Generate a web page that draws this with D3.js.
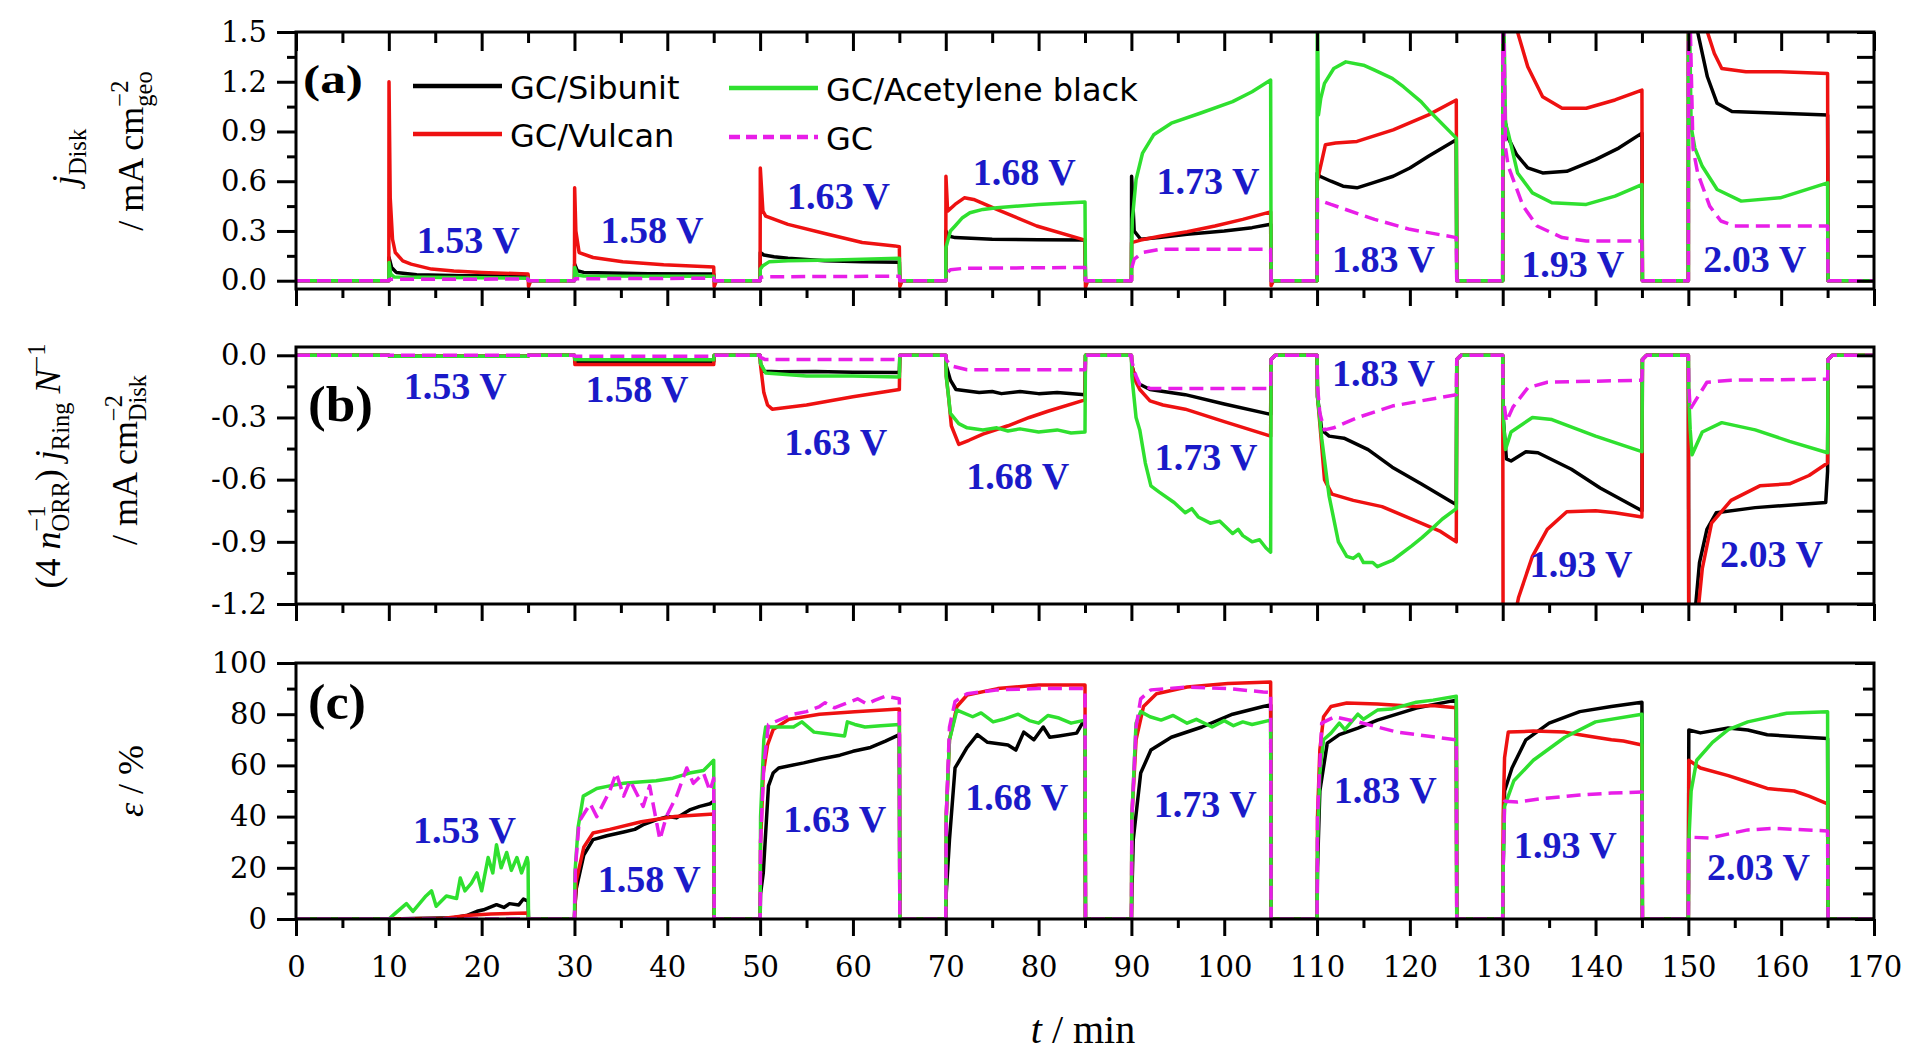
<!DOCTYPE html>
<html>
<head>
<meta charset="utf-8">
<script src="https://cdn.jsdelivr.net/npm/d3@7"></script>
<style>
  html, body { margin: 0; padding: 0; background: #fff; }
  svg text { white-space: pre; }
</style>
</head>
<body>
<svg id="chart" width="1910" height="1056"></svg>
<script>
// ---- data (t in min, value) ----
var seriesNames = ['GC/Sibunit', 'GC/Vulcan', 'GC/Acetylene black', 'GC'];
var voltLabels = ['1.53 V', '1.58 V', '1.63 V', '1.68 V', '1.73 V', '1.83 V', '1.93 V', '2.03 V'];
var xTicks = d3.range(0, 171, 10);

// (a) disk current density / mA cm-2
var diskBlack = [[0,0],[10,0],[10.02,0.14],[10.3,0.08],[10.8,0.05],[13,0.036],[18,0.03],[25,0.028],[25.05,0],
  [30,0],[30.02,0.1],[30.3,0.06],[31,0.05],[38,0.042],[45,0.04],[45.05,0],
  [50,0],[50.02,0.17],[50.4,0.155],[51.5,0.145],[53,0.135],[57,0.12],[61,0.115],[65,0.112],[65.05,0],
  [70,0],[70.02,0.3],[70.3,0.27],[71,0.26],[75,0.25],[80,0.247],[85,0.245],[85.05,0],
  [90,0],[90.02,0.63],[90.3,0.3],[91,0.25],[93,0.26],[96,0.28],[100,0.3],[103,0.32],[105,0.34],[105.05,0],
  [110,0],[110.02,0.65],[110.3,0.63],[111.5,0.6],[112.8,0.57],[114.3,0.56],[116,0.59],[118.2,0.63],[120,0.68],[122,0.75],[125,0.85],[125.05,0],
  [130,0],[130.02,1.2],[130.3,0.95],[130.6,0.86],[131.5,0.76],[132.7,0.68],[134.3,0.65],[136.9,0.66],[140,0.73],[142.5,0.8],[145,0.89],[145.05,0],
  [150,0],[150.02,2.5],[151,1.5],[152.05,1.23],[153.1,1.07],[154.7,1.02],[159.9,1.01],[165,1.0],[165.05,0],[170,0]];
var diskRed = [[0,0],[10,0],[10.02,1.2],[10.15,0.5],[10.4,0.25],[10.7,0.17],[11.5,0.12],[12.4,0.1],[14.6,0.07],[17,0.058],[20,0.05],[25,0.04],[25.05,-0.035],[25.3,0],
  [30,0],[30.02,0.56],[30.15,0.3],[30.5,0.17],[32,0.14],[35.2,0.115],[39.6,0.096],[45,0.083],[45.05,-0.035],[45.3,0],
  [50,0],[50.02,0.68],[50.3,0.42],[50.6,0.39],[53,0.34],[57.3,0.28],[61,0.23],[64.5,0.21],[65,0.205],[65.05,-0.035],[65.3,0],
  [70,0],[70.02,0.63],[70.2,0.42],[71,0.46],[72,0.5],[73,0.49],[75.5,0.43],[79.8,0.33],[85,0.245],[85.05,-0.04],[85.3,0],
  [90,0],[90.02,0.23],[91,0.245],[93.2,0.27],[96,0.295],[99,0.33],[102,0.37],[105,0.415],[105.05,-0.03],[105.3,0],
  [110,0],[110.02,0.6],[110.3,0.67],[110.9,0.82],[112,0.83],[114.3,0.84],[118.2,0.91],[122,1.0],[125,1.09],[125.05,0],
  [130,0],[130.02,4],[130.5,2.4],[131.3,1.6],[131.6,1.5],[132.7,1.29],[134.3,1.11],[136.4,1.04],[139,1.04],[142.1,1.09],[145,1.15],[145.05,0],
  [150,0],[150.02,4],[151,2.2],[152.05,1.5],[152.8,1.37],[153.6,1.28],[156.2,1.26],[159.9,1.26],[165,1.25],[165.05,0],[170,0]];
var diskGreen = [[0,0],[10,0],[10.02,0.11],[10.2,0.04],[10.6,0.022],[25,0.015],[25.05,0],
  [30,0],[30.02,0.08],[30.3,0.035],[31,0.028],[45,0.027],[45.05,0],
  [50,0],[50.02,0.07],[50.3,0.09],[51,0.115],[53,0.12],[58,0.125],[65,0.135],[65.05,0],
  [70,0],[70.02,0.2],[70.5,0.3],[71,0.33],[71.8,0.38],[72.6,0.41],[74,0.43],[75.5,0.44],[80,0.46],[85,0.475],[85.05,0],
  [90,0],[90.02,0.2],[90.1,0.37],[90.5,0.61],[91.2,0.77],[92.4,0.88],[94.3,0.95],[97.4,1.01],[100.9,1.08],[103,1.14],[105,1.21],[105.05,0],
  [110,0],[110.02,1.8],[110.15,1.0],[110.4,1.1],[110.8,1.19],[111.8,1.28],[113.1,1.32],[115,1.3],[116.2,1.27],[118.1,1.22],[119.3,1.17],[121.2,1.08],[122,1.03],[125,0.86],[125.05,0],
  [130,0],[130.02,2],[130.3,0.95],[130.6,0.89],[131.6,0.65],[133.2,0.53],[135.3,0.47],[139,0.46],[142.1,0.51],[145,0.58],[145.05,0],
  [150,0],[150.02,2],[150.3,0.93],[150.7,0.8],[151.5,0.69],[153.1,0.55],[155.7,0.48],[159.9,0.5],[165,0.59],[165.05,0],[170,0]];
var diskMagenta = [[0,0],[10,0],[10.05,0.008],[25,0.01],[25.05,0],
  [30,0],[30.05,0.012],[45,0.015],[45.05,0],
  [50,0],[50.05,0.02],[50.5,0.024],[65,0.027],[65.05,0],
  [70,0],[70.05,0.04],[70.5,0.066],[72,0.075],[85,0.08],[85.05,0],
  [90,0],[90.05,0.08],[90.3,0.13],[91.2,0.17],[93.2,0.19],[105,0.19],[105.05,0],
  [110,0],[110.05,0.49],[111.5,0.46],[116.2,0.37],[120,0.31],[125,0.26],[125.05,0],
  [130,0],[130.02,2],[130.3,0.8],[130.6,0.69],[132.2,0.45],[133.7,0.33],[136.4,0.26],[139,0.24],[145,0.24],[145.05,0],
  [150,0],[150.02,2],[150.5,0.8],[151,0.65],[152.3,0.45],[153.5,0.36],[155,0.33],[165,0.33],[165.05,0],[170,0]];

// (b) (4/n) j_ring / N  / mA cm-2
var ringBlack = [[0,0],[10,0],[10.05,-0.005],[25,-0.005],[25.05,0],
  [30,0],[30.05,-0.03],[45,-0.03],[45.05,0],
  [50,0],[50.05,-0.04],[50.4,-0.077],[52,-0.08],[56,-0.078],[60,-0.082],[65,-0.083],[65.05,0],
  [70,0],[70.05,-0.05],[70.5,-0.12],[71.1,-0.165],[73.6,-0.18],[75,-0.175],[76,-0.185],[78,-0.175],[80,-0.185],[82,-0.18],[85,-0.19],[85.05,0],
  [90,0],[90.05,-0.05],[90.5,-0.12],[90.9,-0.14],[92,-0.165],[95.8,-0.19],[100,-0.235],[105,-0.285],[105.05,-0.02],[105.5,0],
  [110,0],[110.05,-0.2],[110.5,-0.36],[111.3,-0.39],[112.9,-0.4],[115.5,-0.455],[118.1,-0.54],[121.2,-0.62],[124.6,-0.71],[125,-0.72],[125.05,-0.02],[125.5,0],
  [130,0],[130.05,-0.3],[130.4,-0.5],[130.9,-0.51],[132.5,-0.465],[133.8,-0.47],[137.4,-0.55],[140.5,-0.64],[145,-0.75],[145.05,-0.02],[145.5,0],
  [150,0],[150.05,-1.5],[150.7,-1.25],[151.2,-1.0],[152,-0.84],[153,-0.76],[157.2,-0.735],[164.8,-0.71],[165,-0.56],[165.05,-0.02],[165.5,0],[170,0]];
var ringRed = [[0,0],[10,0],[10.05,-0.005],[25,-0.005],[25.05,0],
  [30,0],[30.05,-0.045],[45,-0.045],[45.05,0],
  [50,0],[50.05,-0.05],[50.4,-0.18],[50.8,-0.24],[51.3,-0.26],[55,-0.24],[60,-0.2],[65,-0.165],[65.05,0],
  [70,0],[70.05,-0.1],[70.3,-0.2],[70.6,-0.34],[71.4,-0.43],[72.5,-0.41],[74,-0.38],[76.7,-0.34],[79,-0.3],[81,-0.27],[85,-0.215],[85.05,0],
  [90,0],[90.05,-0.05],[90.5,-0.13],[90.9,-0.165],[92,-0.22],[93.4,-0.24],[95.8,-0.26],[100,-0.32],[105,-0.39],[105.05,-0.02],[105.5,0],
  [110,0],[110.05,-0.2],[110.3,-0.33],[110.8,-0.6],[111.6,-0.67],[113.9,-0.7],[117,-0.73],[120.2,-0.79],[123.3,-0.85],[125,-0.9],[125.05,-0.02],[125.5,0],
  [130,0],[130.05,-1.6],[131.1,-1.3],[131.7,-1.17],[133.2,-0.97],[134.8,-0.84],[136.9,-0.755],[140,-0.75],[142.1,-0.76],[145,-0.78],[145.05,-0.02],[145.5,0],
  [150,0],[150.05,-1.6],[150.9,-1.3],[151.5,-1.03],[152.5,-0.81],[154.6,-0.7],[157.7,-0.63],[160.9,-0.62],[163,-0.58],[165,-0.52],[165.05,-0.02],[165.5,0],[170,0]];
var ringGreen = [[0,0],[10,0],[10.05,-0.005],[25,-0.005],[25.05,0],
  [30,0],[30.05,-0.02],[45,-0.022],[45.05,0],
  [50,0],[50.05,-0.04],[50.6,-0.085],[55,-0.1],[60,-0.1],[65,-0.105],[65.05,0],
  [70,0],[70.05,-0.1],[70.5,-0.28],[71.4,-0.33],[72.3,-0.35],[74,-0.36],[75.5,-0.35],[76.7,-0.365],[78,-0.355],[80,-0.37],[82,-0.36],[83.5,-0.375],[85,-0.37],[85.05,0],
  [90,0],[90.05,-0.1],[90.5,-0.3],[90.9,-0.36],[91.5,-0.52],[92.1,-0.63],[93,-0.66],[94.6,-0.71],[95.8,-0.76],[96.5,-0.74],[97.2,-0.78],[98.5,-0.81],[99.5,-0.8],[100.9,-0.86],[101.5,-0.84],[102,-0.87],[103,-0.9],[103.8,-0.89],[104.5,-0.93],[105,-0.95],[105.05,-0.02],[105.5,0],
  [110,0],[110.05,-0.2],[110.5,-0.4],[111.3,-0.68],[112.3,-0.9],[113.2,-0.97],[113.9,-0.98],[114.5,-0.96],[115,-1.0],[116,-1.0],[116.5,-1.02],[117,-1.01],[118.1,-0.99],[119,-0.96],[120.2,-0.92],[121.3,-0.88],[122.3,-0.84],[123.5,-0.79],[125,-0.74],[125.05,-0.02],[125.5,0],
  [130,0],[130.05,-0.3],[130.3,-0.455],[130.9,-0.37],[133.2,-0.3],[135.3,-0.31],[140,-0.39],[145,-0.465],[145.05,-0.02],[145.5,0],
  [150,0],[150.05,-0.2],[150.2,-0.36],[150.4,-0.48],[151.5,-0.37],[153.6,-0.325],[157.2,-0.36],[160.9,-0.415],[165,-0.47],[165.05,-0.02],[165.5,0],[170,0]];
var ringMagenta = [[0,0],[30,0],[30.05,-0.005],[45,-0.005],[45.05,0],
  [50,0],[50.05,-0.01],[50.5,-0.02],[65,-0.02],[65.05,0],
  [70,0],[70.05,-0.02],[70.5,-0.05],[72.3,-0.07],[85,-0.07],[85.05,0],
  [90,0],[90.05,-0.03],[90.5,-0.1],[90.9,-0.14],[92,-0.16],[105,-0.16],[105.05,-0.02],[105.5,0],
  [110,0],[110.05,-0.15],[110.3,-0.28],[110.8,-0.36],[111.8,-0.35],[114.4,-0.3],[118.1,-0.245],[121.2,-0.22],[125,-0.19],[125.05,-0.02],[125.5,0],
  [130,0],[130.05,-0.2],[130.4,-0.32],[131.1,-0.25],[132.7,-0.157],[134.8,-0.13],[145,-0.12],[145.05,-0.02],[145.5,0],
  [150,0],[150.05,-0.15],[150.2,-0.26],[152,-0.13],[154.6,-0.12],[165,-0.115],[165.05,-0.02],[165.5,0],[170,0]];

// (c) efficiency / %
var effBlack = [[0,0],[10,0],[17,0.5],[18.5,1.5],[19.5,3],[20.2,3.6],[21.6,5.6],[22.4,4.5],[23,6],[24,5.5],[24.5,7.8],[25,7],[25.05,0],
  [30,0],[30.05,5],[30.2,12],[31,25],[32,31],[33.5,32.5],[35.3,34],[36.5,35],[37.5,37],[38.8,38.7],[40,40],[41,39.5],[42.4,42.6],[43.5,44],[44.6,45],[45,46],[45.05,0],
  [50,0],[50.05,10],[50.34,18],[50.9,52],[51.4,57],[52,59],[54.7,61],[56.5,62.5],[58.6,64],[60,65.5],[61.9,67],[63.5,69.5],[65,72],[65.05,0],
  [70,0],[70.05,10],[70.4,31],[71,59],[72.3,67],[73.4,72],[74.5,69],[76.7,68],[77.55,66],[78.4,73],[79.5,70],[80.5,75],[81.2,71],[82.2,71.5],[84.1,72.6],[84.8,77],[85,77],[85.05,0],
  [90,0],[90.05,10],[90.2,31],[91,57],[92.1,66],[94.3,71],[97.6,75],[100.9,80],[104.2,83],[105,83.6],[105.05,0],
  [110,0],[110.05,20],[110.3,50],[111.1,68.7],[112.4,72],[114.4,74.6],[116.5,77.7],[120.7,82.4],[125,85.5],[125.05,0],
  [130,0],[130.05,20],[130.2,50],[131,59],[132.5,70],[135,76.5],[138.3,81],[141.7,83],[145,84.7],[145.05,0],
  [150,0],[150.05,73.8],[151.3,72.7],[154.3,74.6],[156.4,73.8],[158.5,72],[162.7,71],[165,70.5],[165.05,0],[170,0]];
var effRed = [[0,0],[10,0],[16,0.3],[18.7,1.5],[21,2],[25,2.3],[25.05,0],
  [30,0],[30.05,5],[30.2,15],[31,28],[32,33.6],[33.8,35],[37.2,38],[40.8,40],[45,41],[45.05,0],
  [50,0],[50.05,30],[50.34,57],[50.8,68],[51.4,74],[53.1,78],[56.4,80],[60.2,81],[65,82],[65.05,0],
  [70,0],[70.05,40],[70.4,70],[71.2,83],[72.3,87.5],[75.6,90],[80,91.4],[85,91.4],[85.05,0],
  [90,0],[90.05,40],[90.5,70],[91.3,83],[92.7,88],[96,90.6],[100.4,92],[105,92.6],[105.05,0],
  [110,0],[110.05,40],[110.3,66],[110.7,79],[111.5,83],[113.2,84.4],[116.5,84],[120.7,83],[122.4,83.4],[125,82.5],[125.05,0],
  [130,0],[130.05,40],[130.2,63],[130.6,73],[133.3,73.4],[136.7,73],[138.3,72],[141.7,70],[143,69.5],[145,68],[145.05,0],
  [150,0],[150.05,62],[151.3,59],[154.3,56],[156,54],[158.5,51],[161.4,50],[163,48],[165,45],[165.05,0],[170,0]];
var effGreen = [[0,0],[10,0],[10.5,1.6],[11.9,6],[12.6,3],[14,9],[14.6,11],[15.1,5],[16.2,9],[17.3,8],[17.7,16],[18.2,11],[18.9,14],[19.5,18],[20,11],[20.7,24],[21.2,18],[21.6,29],[22.1,20],[22.7,26],[23.2,19],[23.8,24],[24.3,18],[24.9,24],[25,22],[25.05,0],
  [30,0],[30.05,18],[30.4,36],[30.95,48],[32.4,51],[33.8,52],[35.3,53],[37,53.5],[38.8,54],[40.6,55],[42.4,57],[43.9,58],[45,62],[45.05,0],
  [50,0],[50.05,40],[50.4,70],[50.6,75],[52,75],[53.6,75],[54.5,77],[55.8,73],[57,72.5],[59.1,71.5],[59.4,77],[60.2,76],[61.3,75],[63,75.5],[65,76],[65.05,0],
  [70,0],[70.05,40],[70.4,70],[71.2,81.6],[72.9,79],[73.8,80.5],[75.1,77],[76.2,78],[77.8,80],[79,77.5],[80,76.5],[81,79.5],[82.2,78.5],[83.5,76.5],[85,77.7],[85.05,0],
  [90,0],[90.05,40],[90.5,76.5],[91,81],[92,79],[93.2,77.7],[94.5,79.5],[96,76.5],[97,78],[98.7,75],[100,77.5],[101,75.5],[102,77],[103,76],[105,77.7],[105.05,0],
  [110,0],[110.05,30],[110.3,57],[110.7,70],[111.5,72.6],[112.4,76.5],[113,74],[114.4,80],[115,78],[116.5,81.6],[118,82],[120.7,84.7],[122.5,85.5],[125,87],[125.05,0],
  [130,0],[130.05,20],[130.2,44],[131.2,54],[133.3,62],[136.7,71],[140,77],[145,80],[145.05,0],
  [150,0],[150.05,30],[150.3,50],[150.9,62],[152.6,69],[154.3,74],[156.4,77],[160.6,80.4],[165,81],[165.05,0],[170,0]];
var effMagenta = [[0,0],[30,0],[30.1,20],[30.5,38],[31,41],[31.7,45],[32.4,40],[33.8,50],[34.5,57],[35.3,48],[36,54],[37.4,44],[38.1,52],[39.2,31],[39.9,40],[41,48],[42.1,59],[42.8,53],[43.9,57],[44.6,50],[45,55],[45.05,0],
  [50,0],[50.05,30],[50.4,60],[50.9,76],[53.6,80],[55,81],[56.4,83],[57,84.5],[58,82.5],[59.1,84],[60.5,86],[61.5,84],[62.4,85.5],[63.5,87],[65,86],[65.05,0],
  [70,0],[70.05,40],[70.4,75],[71,85],[72.3,88],[75.6,89.5],[80,90],[85,90],[85.05,0],
  [90,0],[90.05,40],[90.5,75],[91,86],[92.1,89.5],[96,90.6],[100.4,90],[104.2,88.7],[105,88.5],[105.05,0],
  [110,0],[110.05,40],[110.5,76.5],[111.9,79],[114.4,77],[118.6,73],[125,70],[125.05,0],
  [130,0],[130.05,20],[130.2,46],[131.6,45.7],[134.2,47],[138.3,48.4],[141.7,49.2],[145,49.6],[145.05,0],
  [150,0],[150.05,32],[152.2,31.6],[156.4,34.8],[159.3,35.4],[165,34.4],[165.05,0],[170,0]];

// where the potential labels sit (t at left edge, value at baseline)
var labelPosA = [[13.0,0.17],[32.8,0.23],[52.9,0.43],[72.9,0.58],[92.7,0.52],[111.6,0.054],[132.0,0.02],[151.6,0.054]];
var labelPosB = [[11.6,-0.213],[31.2,-0.223],[52.6,-0.479],[72.2,-0.643],[92.5,-0.552],[111.6,-0.15],[132.9,-1.069],[153.4,-1.021]];
var labelPosC = [[12.6,29.7],[32.5,10.5],[52.5,34],[72.1,42.6],[92.4,39.8],[111.8,45.3],[131.2,23.8],[152.0,15.2]];

// ---- styles ----
var colors = ['#000000', '#ee1111', '#2fe02f', '#e81ee8'];
var dashes = [null, null, null, '14,7'];
var serif = 'Liberation Serif';
var tickFont = 'DejaVu Serif';
var blue = '#1a1ac8';

var svg = d3.select('#chart');
var x = d3.scaleLinear().domain([0, 170]).range([296, 1874]);
var X0 = 296, X1 = 1874;

var panels = [
  { id: 'a', domain: [-0.05, 1.5], range: [289, 32],
    major: d3.range(0, 6).map(function(i){ return i * 0.3; }),
    minor: d3.range(0, 5).map(function(i){ return 0.15 + i * 0.3; }),
    fmt: function(v){ return v.toFixed(1); },
    series: [diskBlack, diskRed, diskGreen, diskMagenta], labels: labelPosA,
    rMaj: 17, rMin: 17, top: true, tag: '(a)', tagY: 93, tagSize: 40, tagW: 60 },
  { id: 'b', domain: [-1.2, 0.04], range: [604, 347],
    major: d3.range(0, 5).map(function(i){ return -i * 0.3; }),
    minor: d3.range(0, 4).map(function(i){ return -0.15 - i * 0.3; }),
    fmt: function(v){ return v.toFixed(1); },
    series: [ringBlack, ringRed, ringGreen, ringMagenta], labels: labelPosB,
    rMaj: 17, rMin: 17, top: false, tag: '(b)', tagY: 421, tagSize: 50, tagW: 65 },
  { id: 'c', domain: [0, 100], range: [919, 663],
    major: d3.range(0, 101, 20), minor: d3.range(10, 100, 20),
    fmt: function(v){ return String(v); },
    series: [effBlack, effRed, effGreen, effMagenta], labels: labelPosC,
    rMaj: 19, rMin: 11, top: false, tag: '(c)', tagY: 719, tagSize: 50, tagW: 58 }
];

function styleAxis(sel){
  sel.select('.domain').remove();
  sel.selectAll('line').attr('stroke', '#000').attr('stroke-width', 3);
  sel.selectAll('text').attr('font-family', tickFont).attr('font-size', 29).attr('fill', '#000');
  return sel;
}

panels.forEach(function(p, pi){
  var y = d3.scaleLinear().domain(p.domain).range(p.range);
  var g = svg.append('g').attr('class', 'panel-' + p.id);
  var top = p.range[1], bot = p.range[0];

  // clip
  svg.append('clipPath').attr('id', 'clip-' + p.id)
    .append('rect').attr('x', X0).attr('y', top).attr('width', X1 - X0).attr('height', bot - top);

  // curves
  var line = d3.line().x(function(d){ return x(d[0]); }).y(function(d){ return y(d[1]); });
  var lines = g.append('g').attr('clip-path', 'url(#clip-' + p.id + ')');
  p.series.forEach(function(s, si){
    lines.append('path')
      .datum(s)
      .attr('d', line)
      .attr('fill', 'none')
      .attr('stroke', colors[si])
      .attr('stroke-width', 3.5)
      .attr('stroke-linejoin', 'round')
      .attr('stroke-dasharray', dashes[si]);
  });

  // left axis (outward)
  styleAxis(g.append('g').attr('transform', 'translate(' + X0 + ',0)')
    .call(d3.axisLeft(y).tickValues(p.major).tickSize(19).tickPadding(10).tickFormat(p.fmt)));
  styleAxis(g.append('g').attr('transform', 'translate(' + X0 + ',0)')
    .call(d3.axisLeft(y).tickValues(p.minor).tickSize(9).tickFormat('')));
  // right axis (inward)
  styleAxis(g.append('g').attr('transform', 'translate(' + X1 + ',0)')
    .call(d3.axisLeft(y).tickValues(p.major).tickSize(p.rMaj).tickFormat('')));
  styleAxis(g.append('g').attr('transform', 'translate(' + X1 + ',0)')
    .call(d3.axisLeft(y).tickValues(p.minor).tickSize(p.rMin).tickFormat('')));
  // bottom axis (outward)
  var bottomFmt = p.id === 'c' ? d3.format('d') : '';
  styleAxis(g.append('g').attr('transform', 'translate(0,' + bot + ')')
    .call(d3.axisBottom(x).tickValues(xTicks).tickSize(17).tickPadding(20).tickFormat(bottomFmt)));
  styleAxis(g.append('g').attr('transform', 'translate(0,' + bot + ')')
    .call(d3.axisBottom(x).tickValues(d3.range(5, 170, 10)).tickSize(9).tickFormat('')));
  if (p.top) {
    styleAxis(g.append('g').attr('transform', 'translate(0,' + top + ')')
      .call(d3.axisBottom(x).tickValues(xTicks).tickSize(19).tickFormat('')));
    styleAxis(g.append('g').attr('transform', 'translate(0,' + top + ')')
      .call(d3.axisBottom(x).tickValues(d3.range(5, 170, 10)).tickSize(11).tickFormat('')));
  }

  // frame
  g.append('rect').attr('x', X0).attr('y', top).attr('width', X1 - X0).attr('height', bot - top)
    .attr('fill', 'none').attr('stroke', '#000').attr('stroke-width', 3);

  // potential labels
  g.selectAll('text.volt').data(p.labels).enter().append('text')
    .attr('class', 'volt')
    .attr('x', function(d){ return x(d[0]); })
    .attr('y', function(d){ return y(d[1]); })
    .attr('font-family', serif).attr('font-weight', 'bold').attr('font-size', 37)
    .attr('fill', blue)
    .attr('textLength', 103).attr('lengthAdjust', 'spacingAndGlyphs')
    .text(function(d, i){ return voltLabels[i]; });

  // panel tag
  g.append('text').attr('x', pi === 0 ? 303 : 308).attr('y', p.tagY)
    .attr('font-family', serif).attr('font-weight', 'bold').attr('font-size', p.tagSize)
    .attr('textLength', p.tagW).attr('lengthAdjust', 'spacingAndGlyphs')
    .text(p.tag);
});

// ---- legend (panel a) ----
var legendItems = [
  { i: 0, x: 413, y: 86 }, { i: 1, x: 413, y: 134 },
  { i: 2, x: 729, y: 88 }, { i: 3, x: 729, y: 137 }
];
var lg = svg.append('g').attr('class', 'legend');
legendItems.forEach(function(it){
  lg.append('line').attr('x1', it.x).attr('x2', it.x + 89).attr('y1', it.y).attr('y2', it.y)
    .attr('stroke', colors[it.i]).attr('stroke-width', 4.5)
    .attr('stroke-dasharray', it.i === 3 ? '11,6' : null);
  lg.append('text').attr('x', it.x + 97).attr('y', it.y + 13)
    .attr('font-family', 'DejaVu Sans').attr('font-size', 32).attr('fill', '#000')
    .text(seriesNames[it.i]);
});

// ---- axis titles with sub/superscripts ----
function richText(parent, parts, fs){
  var g = parent.append('g');
  var pos = 0, prevStart = 0;
  parts.forEach(function(p){
    var size = p.lv ? fs * 0.68 : fs;
    var dy = p.lv === 1 ? -fs * 0.42 : (p.lv === -1 ? fs * 0.24 : 0);
    var start = p.stack ? prevStart : pos;
    var t = g.append('text')
      .attr('x', start).attr('y', dy)
      .attr('font-family', serif).attr('font-size', size).attr('fill', '#000')
      .attr('font-style', p.it ? 'italic' : null)
      .text(p.t);
    var w = t.node().getComputedTextLength();
    prevStart = start;
    pos = Math.max(pos, start + w);
  });
  g.selectAll('text').attr('x', function(){ return +d3.select(this).attr('x') - pos / 2; });
  return g;
}
function yTitle(bx, cy, parts, fs){
  var holder = svg.append('g').attr('transform', 'translate(' + bx + ',' + cy + ') rotate(-90)');
  richText(holder, parts, fs);
}

yTitle(77, 157, [{ t: 'j', it: true }, { t: 'Disk', lv: -1 }], 36);
yTitle(143, 151, [{ t: '/ mA cm' }, { t: '\u22122', lv: 1 }, { t: 'geo', lv: -1, stack: true }], 36);
yTitle(60, 466, [{ t: '(4 ' }, { t: 'n', it: true }, { t: '\u22121', lv: 1 }, { t: 'ORR', lv: -1, stack: true },
  { t: ') ' }, { t: 'j', it: true }, { t: 'Ring', lv: -1 }, { t: ' ' }, { t: 'N', it: true }, { t: '\u22121', lv: 1 }], 36);
yTitle(137, 460, [{ t: '/ mA cm' }, { t: '\u22122', lv: 1 }, { t: 'Disk', lv: -1, stack: true }], 36);
yTitle(143, 781, [{ t: '\u03b5', it: true }, { t: ' / %' }], 36);

var xt = svg.append('g').attr('transform', 'translate(1083,1043)');
richText(xt, [{ t: 't', it: true }, { t: ' / min' }], 40);
</script>
</body>
</html>
